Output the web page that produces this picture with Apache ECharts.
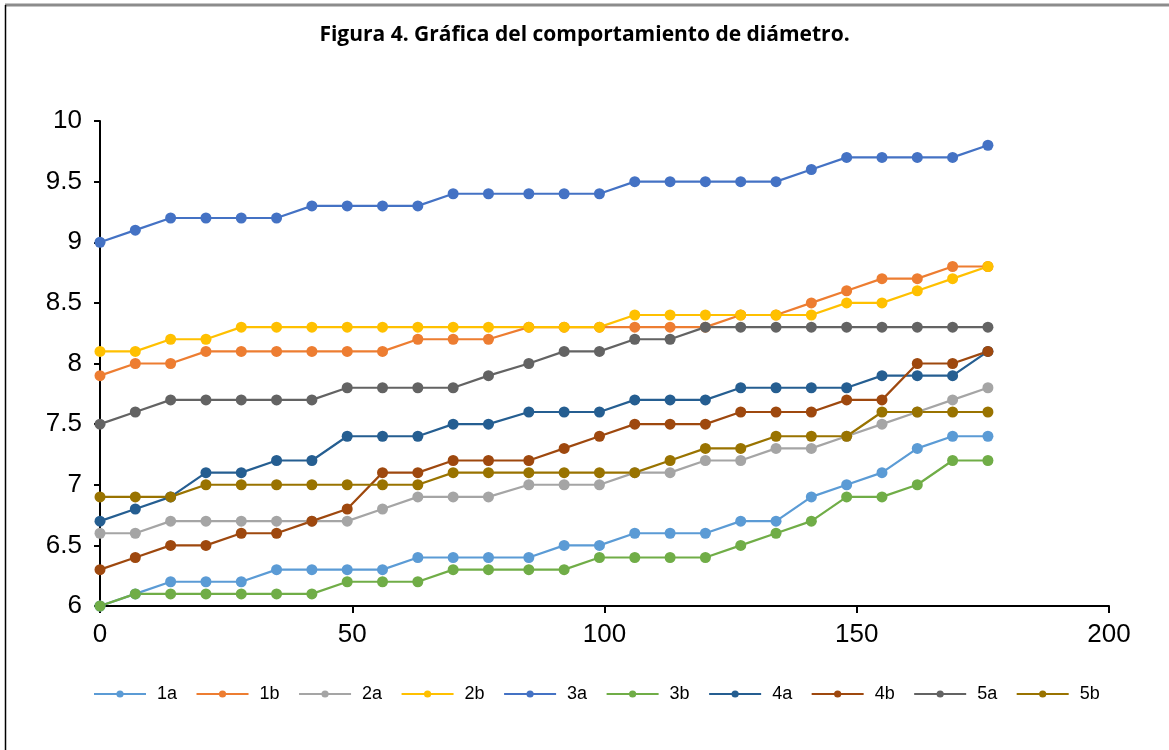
<!DOCTYPE html>
<html>
<head>
<meta charset="utf-8">
<script src="https://cdn.jsdelivr.net/npm/echarts@6/dist/echarts.min.js"></script>
<style>
  html, body { margin: 0; padding: 0; background: #fff; }
  #chart { width: 1169px; height: 750px; }
</style>
</head>
<body>
<div id="chart"></div>
<script>
// días de medición
const days = [0, 7, 14, 21, 28, 35, 42, 49, 56, 63, 70, 77, 85, 92, 99, 106, 113, 120, 127, 134, 141, 148, 155, 162, 169, 176]

const s1a = [6.0, 6.1, 6.2, 6.2, 6.2, 6.3, 6.3, 6.3, 6.3, 6.4, 6.4, 6.4, 6.4, 6.5, 6.5, 6.6, 6.6, 6.6, 6.7, 6.7, 6.9, 7.0, 7.1, 7.3, 7.4, 7.4]
const s1b = [7.9, 8.0, 8.0, 8.1, 8.1, 8.1, 8.1, 8.1, 8.1, 8.2, 8.2, 8.2, 8.3, 8.3, 8.3, 8.3, 8.3, 8.3, 8.4, 8.4, 8.5, 8.6, 8.7, 8.7, 8.8, 8.8]
const s2a = [6.6, 6.6, 6.7, 6.7, 6.7, 6.7, 6.7, 6.7, 6.8, 6.9, 6.9, 6.9, 7.0, 7.0, 7.0, 7.1, 7.1, 7.2, 7.2, 7.3, 7.3, 7.4, 7.5, 7.6, 7.7, 7.8]
const s2b = [8.1, 8.1, 8.2, 8.2, 8.3, 8.3, 8.3, 8.3, 8.3, 8.3, 8.3, 8.3, 8.3, 8.3, 8.3, 8.4, 8.4, 8.4, 8.4, 8.4, 8.4, 8.5, 8.5, 8.6, 8.7, 8.8]
const s3a = [9.0, 9.1, 9.2, 9.2, 9.2, 9.2, 9.3, 9.3, 9.3, 9.3, 9.4, 9.4, 9.4, 9.4, 9.4, 9.5, 9.5, 9.5, 9.5, 9.5, 9.6, 9.7, 9.7, 9.7, 9.7, 9.8]
const s3b = [6.0, 6.1, 6.1, 6.1, 6.1, 6.1, 6.1, 6.2, 6.2, 6.2, 6.3, 6.3, 6.3, 6.3, 6.4, 6.4, 6.4, 6.4, 6.5, 6.6, 6.7, 6.9, 6.9, 7.0, 7.2, 7.2]
const s4a = [6.7, 6.8, 6.9, 7.1, 7.1, 7.2, 7.2, 7.4, 7.4, 7.4, 7.5, 7.5, 7.6, 7.6, 7.6, 7.7, 7.7, 7.7, 7.8, 7.8, 7.8, 7.8, 7.9, 7.9, 7.9, 8.1]
const s4b = [6.3, 6.4, 6.5, 6.5, 6.6, 6.6, 6.7, 6.8, 7.1, 7.1, 7.2, 7.2, 7.2, 7.3, 7.4, 7.5, 7.5, 7.5, 7.6, 7.6, 7.6, 7.7, 7.7, 8.0, 8.0, 8.1]
const s5a = [7.5, 7.6, 7.7, 7.7, 7.7, 7.7, 7.7, 7.8, 7.8, 7.8, 7.8, 7.9, 8.0, 8.1, 8.1, 8.2, 8.2, 8.3, 8.3, 8.3, 8.3, 8.3, 8.3, 8.3, 8.3, 8.3]
const s5b = [6.9, 6.9, 6.9, 7.0, 7.0, 7.0, 7.0, 7.0, 7.0, 7.0, 7.1, 7.1, 7.1, 7.1, 7.1, 7.1, 7.2, 7.3, 7.3, 7.4, 7.4, 7.4, 7.6, 7.6, 7.6, 7.6]

const names = ['1a', '1b', '2a', '2b', '3a', '3b', '4a', '4b', '5a', '5b']
const values = [s1a, s1b, s2a, s2b, s3a, s3b, s4a, s4b, s5a, s5b]
const colors = ['#5B9BD5', '#ED7D31', '#A5A5A5', '#FFC000', '#4472C4', '#70AD47', '#255E91', '#9E480E', '#636363', '#997300']

const chart = echarts.init(document.getElementById('chart'), null, { renderer: 'canvas' })

const series = names.map((name, k) => ({
  name,
  type: 'line',
  data: days.map((d, i) => [d, values[k][i]]),
  symbol: 'circle',
  symbolSize: 11,
  lineStyle: { width: 2.2, color: colors[k] },
  itemStyle: { color: colors[k] },
  emphasis: { disabled: true },
}))

chart.setOption({
  animation: false,
  color: colors,
  title: {
    text: 'Figura 4. Gráfica del comportamiento de diámetro.',
    left: 'center',
    top: 20,
    textStyle: { fontFamily: 'Open Sans', fontWeight: 'bold', fontSize: 21, color: '#000' },
  },
  grid: { left: 100, right: 60, top: 121, bottom: 144 },
  xAxis: {
    type: 'value',
    min: 0,
    max: 200,
    interval: 50,
    splitLine: { show: false },
    axisLine: { lineStyle: { color: '#000', width: 2 } },
    axisTick: { show: true, length: 7, lineStyle: { color: '#000', width: 2 } },
    axisLabel: { fontFamily: 'Liberation Sans', fontSize: 26, color: '#000', margin: 16 },
  },
  yAxis: {
    type: 'value',
    min: 6,
    max: 10,
    interval: 0.5,
    splitLine: { show: false },
    axisLine: { show: true, lineStyle: { color: '#000', width: 2 } },
    axisTick: { show: true, length: 6, lineStyle: { color: '#000', width: 2 } },
    axisLabel: { fontFamily: 'Liberation Sans', fontSize: 26, color: '#000', margin: 18 },
  },
  legend: {
    data: names,
    left: 88,
    right: 0,
    top: 680,
    itemWidth: 52,
    itemHeight: 9,
    itemGap: 18.5,
    textStyle: { fontFamily: 'Liberation Sans', fontSize: 18, color: '#000', padding: [0, 0, 0, 6] },
  },
  graphic: [
    { type: 'line', shape: { x1: 5, y1: 5, x2: 1169, y2: 5 }, style: { stroke: '#8c8c8c', lineWidth: 3 } },
    { type: 'line', shape: { x1: 5.5, y1: 5, x2: 5.5, y2: 750 }, style: { stroke: '#000', lineWidth: 1.5 } },
  ],
  series,
})
</script>
</body>
</html>
